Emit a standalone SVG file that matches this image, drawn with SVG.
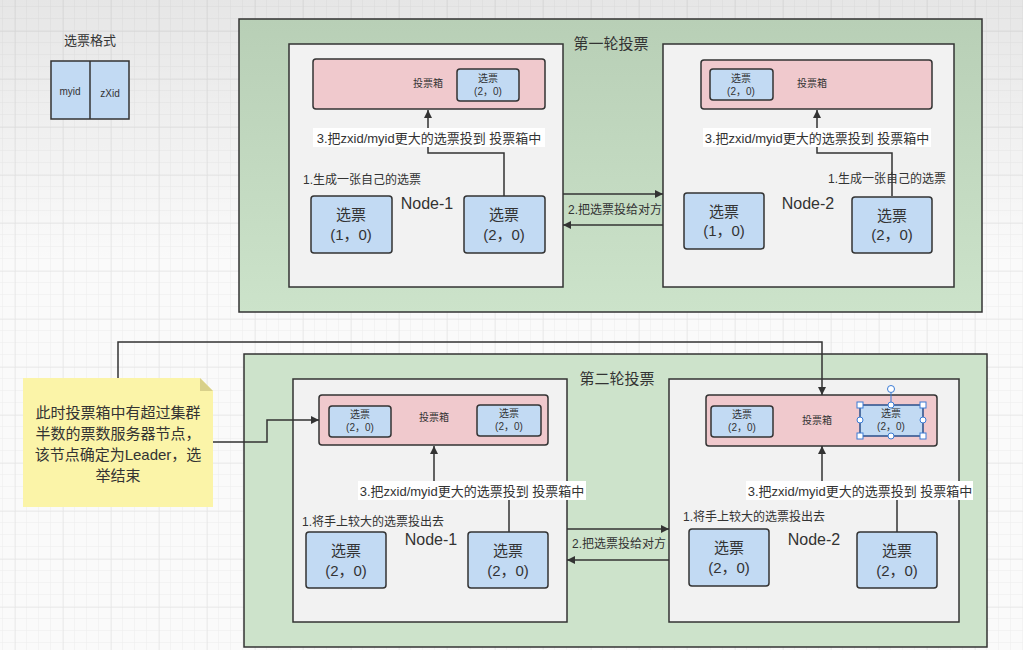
<svg xmlns="http://www.w3.org/2000/svg" width="1023" height="656" viewBox="0 0 1023 656">
<style>
text{font-family:"Liberation Sans","Noto Sans CJK SC",sans-serif;fill:#333;}
.c{text-anchor:middle;}
.round{stroke:#333;stroke-width:1.5;}
.node{fill:#f2f2f2;stroke:#333;stroke-width:1.5;}
.box{fill:#f0c9cd;stroke:#333;stroke-width:1.5;}
.ballot{fill:#c2daf3;stroke:#333;stroke-width:1.5;}
.big{font-size:15px;}
.small{font-size:10px;}
.step{font-size:12px;}
.lbl{font-size:13px;}
.nd{font-size:16px;}
.conn{fill:none;stroke:#333;stroke-width:1.5;}
.bg{fill:#fff;}
.h{fill:#fff;stroke:#3a7bd5;stroke-width:1;}
</style>
<defs>
<pattern id="minor" width="12" height="12" patternUnits="userSpaceOnUse" x="3" y="7">
<path d="M12 0V12M0 12H12" fill="none" stroke="#ececec" stroke-width="1"/>
</pattern>
<pattern id="major" width="48" height="48" patternUnits="userSpaceOnUse" x="15" y="31">
<path d="M0 0V48M0 0H48" fill="none" stroke="#e2e2e2" stroke-width="1"/>
</pattern>
<linearGradient id="g1" x1="0" y1="0" x2="0" y2="1">
<stop offset="0" stop-color="#b8cfb6"/>
<stop offset="1" stop-color="#cce3ca"/>
</linearGradient>
<linearGradient id="vign" x1="0" y1="0" x2="0" y2="1">
<stop offset="0" stop-color="#000" stop-opacity="0.08"/>
<stop offset="0.4" stop-color="#000" stop-opacity="0"/>
</linearGradient>
<marker id="arr" viewBox="0 0 10 10" refX="10" refY="5" markerWidth="8" markerHeight="8" markerUnits="userSpaceOnUse" orient="auto">
<path d="M0 0L10 5L0 10z" fill="#333"/>
</marker>
</defs>
<rect width="1023" height="656" fill="#fafafa"/>
<rect width="1023" height="656" fill="url(#minor)"/>
<rect width="1023" height="656" fill="url(#major)"/>
<rect width="1023" height="656" fill="url(#vign)"/>
<rect y="650" width="1023" height="6" fill="#fff"/>

<g id="format">
<text x="90" y="45" class="c" style="font-size:13px">选票格式</text>
<rect x="51" y="61" width="78" height="58" class="ballot"/>
<line x1="90" y1="61" x2="90" y2="119" stroke="#333" stroke-width="1.5"/>
<text x="70" y="95" class="c" style="font-size:10px">myid</text>
<text x="110" y="97" class="c" style="font-size:10px">zXid</text>
</g>

<g id="round1">
<rect x="239" y="19" width="743" height="293" fill="url(#g1)" class="round"/>
<text x="611" y="49" class="c" style="font-size:15px">第一轮投票</text>
</g>

<g id="r1-node1">
<rect x="289" y="44" width="274" height="243" class="node"/>
<rect x="313" y="59" width="232" height="50" rx="3" class="box"/>
<text x="428" y="87" class="c small">投票箱</text>
<rect x="457" y="69" width="62" height="32" rx="3" class="ballot"/>
<text x="488" y="82" class="c small">选票</text>
<text x="488" y="95" class="c small">(2，0)</text>
<text x="303" y="184" class="step">1.生成一张自己的选票</text>
<text x="427" y="209" class="c nd">Node-1</text>
<rect x="311" y="196" width="81" height="57" rx="3" class="ballot"/>
<text x="351" y="220" class="c big">选票</text>
<text x="351" y="240" class="c big">(1，0)</text>
<rect x="464" y="196" width="81" height="57" rx="3" class="ballot"/>
<text x="504" y="220" class="c big">选票</text>
<text x="504" y="240" class="c big">(2，0)</text>
</g>

<g id="r1-node2">
<rect x="663" y="44" width="291" height="243" class="node"/>
<rect x="701" y="60" width="231" height="49" rx="3" class="box"/>
<text x="812" y="87" class="c small">投票箱</text>
<rect x="710" y="69" width="63" height="31" rx="3" class="ballot"/>
<text x="741" y="82" class="c small">选票</text>
<text x="741" y="95" class="c small">(2，0)</text>
<text x="828" y="183" class="step">1.生成一张自己的选票</text>
<text x="808" y="209" class="c nd">Node-2</text>
<rect x="684" y="193" width="80" height="56" rx="3" class="ballot"/>
<text x="724" y="217" class="c big">选票</text>
<text x="724" y="236" class="c big">(1，0)</text>
<rect x="852" y="197" width="80" height="56" rx="3" class="ballot"/>
<text x="892" y="221" class="c big">选票</text>
<text x="892" y="240" class="c big">(2，0)</text>
</g>

<g id="round2">
<rect x="244" y="354" width="743" height="293" fill="#cde3cb" class="round"/>
<text x="617" y="384" class="c" style="font-size:15px">第二轮投票</text>
</g>

<g id="r2-node1">
<rect x="293" y="379" width="274" height="243" class="node"/>
<rect x="319" y="395" width="229" height="50" rx="3" class="box"/>
<text x="434" y="421" class="c small">投票箱</text>
<rect x="329" y="406" width="62" height="31" rx="3" class="ballot"/>
<text x="360" y="418" class="c small">选票</text>
<text x="360" y="431" class="c small">(2，0)</text>
<rect x="477" y="405" width="64" height="31" rx="3" class="ballot"/>
<text x="509" y="417" class="c small">选票</text>
<text x="509" y="430" class="c small">(2，0)</text>
<text x="302" y="526" class="step">1.将手上较大的选票投出去</text>
<text x="431" y="545" class="c nd">Node-1</text>
<rect x="306" y="532" width="80" height="56" rx="3" class="ballot"/>
<text x="346" y="556" class="c big">选票</text>
<text x="346" y="576" class="c big">(2，0)</text>
<rect x="468" y="532" width="80" height="56" rx="3" class="ballot"/>
<text x="508" y="556" class="c big">选票</text>
<text x="508" y="576" class="c big">(2，0)</text>
</g>

<g id="r2-node2">
<rect x="669" y="379" width="290" height="243" class="node"/>
<rect x="706" y="395" width="231" height="51" rx="3" class="box"/>
<text x="817" y="424" class="c small">投票箱</text>
<rect x="711" y="406" width="62" height="31" rx="3" class="ballot"/>
<text x="742" y="418" class="c small">选票</text>
<text x="742" y="431" class="c small">(2，0)</text>
<rect x="860" y="405" width="63" height="31" rx="2" class="ballot" style="stroke:#2a4f8a"/>
<text x="891" y="417" class="c small">选票</text>
<text x="891" y="430" class="c small">(2，0)</text>
<text x="683" y="521" class="step">1.将手上较大的选票投出去</text>
<text x="814" y="545" class="c nd">Node-2</text>
<rect x="689" y="529" width="80" height="57" rx="3" class="ballot"/>
<text x="729" y="553" class="c big">选票</text>
<text x="729" y="573" class="c big">(2，0)</text>
<rect x="857" y="532" width="80" height="56" rx="3" class="ballot"/>
<text x="897" y="556" class="c big">选票</text>
<text x="897" y="576" class="c big">(2，0)</text>
</g>

<g id="selection">
<line x1="891" y1="393" x2="891" y2="405" stroke="#3a7bd5" stroke-width="1"/>
<circle cx="891" cy="389" r="3.5" class="h"/>
<rect x="857" y="402" width="6" height="6" class="h"/>
<rect x="920" y="402" width="6" height="6" class="h"/>
<rect x="857" y="433" width="6" height="6" class="h"/>
<rect x="920" y="433" width="6" height="6" class="h"/>
<circle cx="891" cy="405" r="3" class="h"/>
<circle cx="891" cy="436" r="3" class="h"/>
<circle cx="860" cy="420" r="3" class="h"/>
<circle cx="923" cy="420" r="3" class="h"/>
</g>

<g id="note">
<path d="M23 378H200L213 391V507H23Z" fill="#fbf4a8"/>
<path d="M200 378L213 391H200Z" fill="#d8d08a"/>
<text x="118" y="418" class="c" style="font-size:15px">此时投票箱中有超过集群</text>
<text x="118" y="439" class="c" style="font-size:15px">半数的票数服务器节点，</text>
<text x="118" y="460" class="c" style="font-size:15px">该节点确定为Leader，选</text>
<text x="118" y="481" class="c" style="font-size:15px">举结束</text>
</g>

<g id="connectors">
<polyline points="504,196 504,153 428,153 428,110" class="conn" marker-end="url(#arr)"/>
<rect x="313" y="128" width="232" height="19" class="bg"/>
<text x="429" y="143" class="c lbl">3.把zxid/myid更大的选票投到 投票箱中</text>

<polyline points="892,196 892,153 817,153 817,110" class="conn" marker-end="url(#arr)"/>
<rect x="703" y="128" width="228" height="19" class="bg"/>
<text x="817" y="143" class="c lbl">3.把zxid/myid更大的选票投到 投票箱中</text>

<line x1="563" y1="194" x2="663" y2="194" class="conn" marker-end="url(#arr)"/>
<line x1="663" y1="225" x2="563" y2="225" class="conn" marker-end="url(#arr)"/>
<text x="615" y="214" class="c step">2.把选票投给对方</text>

<polyline points="509,532 509,490 434,490 434,446" class="conn" marker-end="url(#arr)"/>
<rect x="358" y="481" width="228" height="19" class="bg"/>
<text x="472" y="496" class="c lbl">3.把zxid/myid更大的选票投到 投票箱中</text>

<polyline points="897,532 897,490 822,490 822,446" class="conn" marker-end="url(#arr)"/>
<rect x="746" y="481" width="227" height="19" class="bg"/>
<text x="860" y="496" class="c lbl">3.把zxid/myid更大的选票投到 投票箱中</text>

<line x1="567" y1="529" x2="669" y2="529" class="conn" marker-end="url(#arr)"/>
<line x1="669" y1="560" x2="567" y2="560" class="conn" marker-end="url(#arr)"/>
<text x="619" y="548" class="c step">2.把选票投给对方</text>

<polyline points="118,378 118,342 822,342 822,395" class="conn" marker-end="url(#arr)"/>
<polyline points="213,442 267,442 267,420 319,420" class="conn" marker-end="url(#arr)"/>
</g>
</svg>
